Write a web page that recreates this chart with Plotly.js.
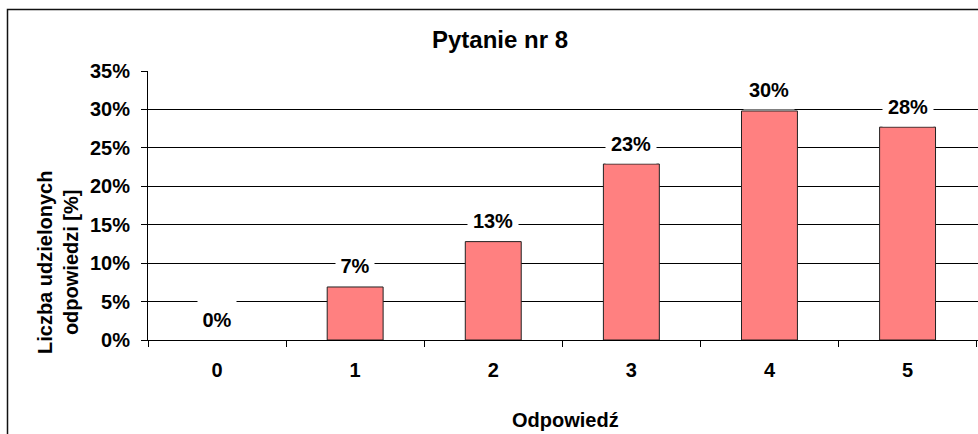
<!DOCTYPE html>
<html>
<head>
<meta charset="utf-8">
<script src="https://cdn.plot.ly/plotly-3.0.1.min.js"></script>
<style>html,body{margin:0;padding:0;background:#fff;}#chart{width:978px;height:434px;}</style>
</head>
<body>
<div id="chart"></div>
<script>
const categories = ["0", "1", "2", "3", "4", "5"];
const values = [0, 6.9, 12.8, 22.9, 29.8, 27.7];
const yTickValues = [0, 5, 10, 15, 20, 25, 30, 35];
const yTickLabels = ["0%", "5%", "10%", "15%", "20%", "25%", "30%", "35%"];
const chartTitle = "Pytanie nr 8";
const xTitle = "Odpowiedź";
const yTitle = "Liczba udzielonych<br>odpowiedzi [%]";

const FONT = "Liberation Sans, Arial, sans-serif";

const labelAnnotations = categories.map((c, i) => {
  const txt = Math.round(values[i]) + "%";
  return {
    x: c, y: values[i], xref: "x", yref: "y",
    text: txt, showarrow: false,
    yanchor: "middle", xanchor: "center", yshift: 20.5,
    bgcolor: "#ffffff", borderpad: 1,
    width: txt.length * 12 + 12, height: 36,
    font: {family: FONT, size: 20, color: "#000", weight: "bold"}
  };
});

const data = [{
  type: "bar",
  x: categories,
  y: values,
  marker: {color: "#FF8080", line: {color: "#222", width: values.map(v => v > 0 ? 1 : 0)}},
  hoverinfo: "none"
}];

const layout = {
  width: 978, height: 434,
  margin: {l: 148, r: 0, t: 71, b: 94},
  paper_bgcolor: "#fff", plot_bgcolor: "#fff",
  showlegend: false,
  bargap: 0.595,
  title: {
    text: chartTitle, xref: "container", yref: "container",
    x: 500/978, y: 1 - 40/434, xanchor: "center", yanchor: "middle",
    font: {family: FONT, size: 24, color: "#000", weight: "bold"}
  },
  xaxis: {
    type: "category", range: [-0.5, 5.51],
    tickson: "boundaries", ticks: "outside", ticklen: 6, tickcolor: "#000", tickwidth: 1,
    showline: true, linecolor: "#000", linewidth: 1,
    showgrid: false, zeroline: false,
    ticklabelstandoff: 12,
    tickfont: {family: FONT, size: 20, color: "#000", weight: "bold"}
  },
  yaxis: {
    range: [0, 35], tickvals: yTickValues, ticktext: yTickLabels,
    ticks: "outside", ticklen: 6, tickcolor: "#000", tickwidth: 1,
    showline: true, linecolor: "#000", linewidth: 1,
    showgrid: true, gridcolor: "#000", gridwidth: 1,
    zeroline: false,
    ticklabelstandoff: 7,
    tickfont: {family: FONT, size: 20, color: "#000", weight: "bold"}
  },
  shapes: [{
    type: "rect", xref: "paper", yref: "paper",
    x0: (7.5-148)/830, x1: 1.05, y0: -0.5, y1: (340-9.5)/269,
    line: {color: "#111", width: 1.5}, fillcolor: "rgba(0,0,0,0)", layer: "below"
  }],
  annotations: labelAnnotations.concat([
    {
      xref: "paper", yref: "paper", x: (58-148)/830, y: (340-263)/269,
      text: yTitle, textangle: -90, showarrow: false,
      xanchor: "center", yanchor: "middle",
      font: {family: FONT, size: 20, color: "#000", weight: "bold"}
    },
    {
      xref: "paper", yref: "paper", x: (565-148)/830, y: (340-420)/269,
      text: xTitle, showarrow: false,
      xanchor: "center", yanchor: "middle",
      font: {family: FONT, size: 20, color: "#000", weight: "bold"}
    }
  ])
};

Plotly.newPlot("chart", data, layout, {displayModeBar: false, staticPlot: true});
</script>
</body>
</html>
